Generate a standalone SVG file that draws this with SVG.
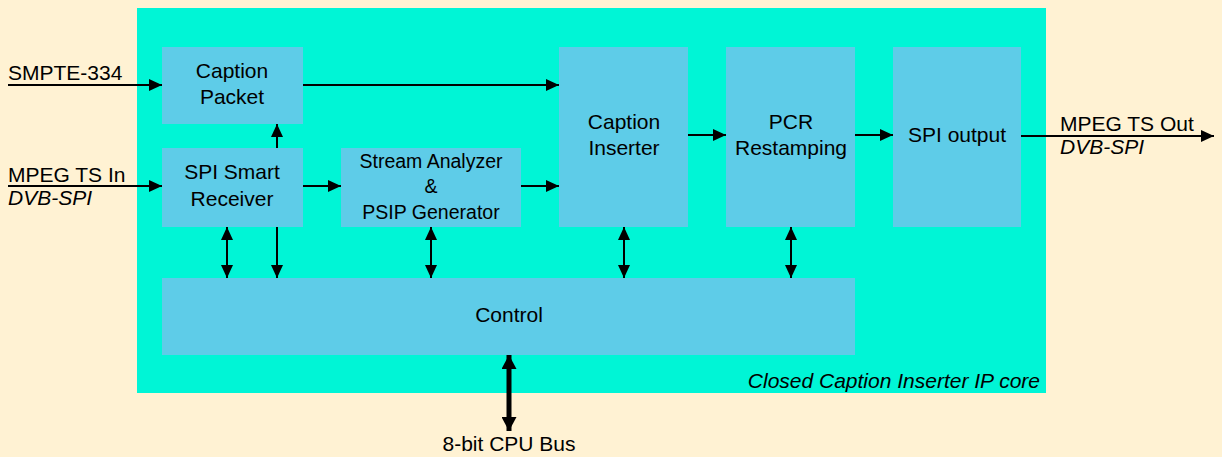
<svg xmlns="http://www.w3.org/2000/svg" width="1222" height="457" viewBox="0 0 1222 457">
<defs>
<marker id="ah" viewBox="0 0 13 12" refX="13" refY="6" markerWidth="13" markerHeight="12" markerUnits="userSpaceOnUse" orient="auto-start-reverse">
<path d="M0,0 L13,6 L0,12 Z" fill="#000"/>
</marker>
<marker id="ahb" viewBox="0 0 14 15" refX="14" refY="7.5" markerWidth="14" markerHeight="15" markerUnits="userSpaceOnUse" orient="auto-start-reverse">
<path d="M0,0 L14,7.5 L0,15 Z" fill="#000"/>
</marker>
</defs>
<style>
.box{fill:#5ECCE8;}
.t{font-family:"Liberation Sans",Arial,sans-serif;font-size:21px;fill:#000;text-anchor:middle;}
.s{font-size:19.5px;}
.l{font-family:"Liberation Sans",Arial,sans-serif;font-size:21px;fill:#000;}
.i{font-style:italic;}
.c{stroke:#000;stroke-width:2;fill:none;}
</style>
<rect x="0" y="0" width="1222" height="457" fill="#FFF2D3"/>
<rect id="core" x="137" y="8" width="909" height="385" fill="#00F5D6"/>
<text class="l i" x="1040" y="388" text-anchor="end">Closed Caption Inserter IP core</text>

<g id="caption-packet"><rect class="box" x="162" y="47" width="141" height="77"/><text class="t" x="232" y="78">Caption</text><text class="t" x="232" y="104">Packet</text></g>
<g id="spi-receiver"><rect class="box" x="162" y="148" width="141" height="79"/><text class="t" x="232" y="179">SPI Smart</text><text class="t" x="232" y="206">Receiver</text></g>
<g id="stream-analyzer"><rect class="box" x="341" y="148" width="180" height="79"/><text class="t s" x="431" y="168">Stream Analyzer</text><text class="t s" x="431" y="193">&amp;</text><text class="t s" x="431" y="219">PSIP Generator</text></g>
<g id="caption-inserter"><rect class="box" x="559" y="47" width="129" height="180"/><text class="t" x="624" y="129">Caption</text><text class="t" x="624" y="155">Inserter</text></g>
<g id="pcr"><rect class="box" x="726" y="47" width="129" height="180"/><text class="t" x="791" y="129">PCR</text><text class="t" x="791" y="155">Restamping</text></g>
<g id="spi-output"><rect class="box" x="893" y="47" width="128" height="180"/><text class="t" x="957" y="142">SPI output</text></g>
<g id="control"><rect class="box" x="162" y="278" width="693" height="77"/><text class="t" x="509" y="322">Control</text></g>

<g id="labels">
<text class="l" x="8" y="80">SMPTE-334</text>
<text class="l" x="8" y="182">MPEG TS In</text>
<text class="l i" x="8" y="205">DVB-SPI</text>
<text class="l" x="1060" y="131">MPEG TS Out</text>
<text class="l i" x="1060" y="154">DVB-SPI</text>
<text class="t" x="509" y="451">8-bit CPU Bus</text>
</g>

<g id="connectors">
<line class="c" x1="8" y1="85" x2="162" y2="85" marker-end="url(#ah)"/>
<line class="c" x1="8" y1="186" x2="162" y2="186" marker-end="url(#ah)"/>
<line class="c" x1="303" y1="85" x2="559" y2="85" marker-end="url(#ah)"/>
<line class="c" x1="303" y1="186" x2="341" y2="186" marker-end="url(#ah)"/>
<line class="c" x1="521" y1="186" x2="559" y2="186" marker-end="url(#ah)"/>
<line class="c" x1="277" y1="148" x2="277" y2="124" marker-end="url(#ah)"/>
<line class="c" x1="688" y1="135" x2="726" y2="135" marker-end="url(#ah)"/>
<line class="c" x1="855" y1="135" x2="893" y2="135" marker-end="url(#ah)"/>
<line class="c" x1="1021" y1="136" x2="1214" y2="136" marker-end="url(#ah)"/>
<line class="c" x1="227" y1="227" x2="227" y2="278" marker-start="url(#ah)" marker-end="url(#ah)"/>
<line class="c" x1="277" y1="227" x2="277" y2="278" marker-end="url(#ah)"/>
<line class="c" x1="431" y1="227" x2="431" y2="278" marker-start="url(#ah)" marker-end="url(#ah)"/>
<line class="c" x1="624" y1="227" x2="624" y2="278" marker-start="url(#ah)" marker-end="url(#ah)"/>
<line class="c" x1="791" y1="227" x2="791" y2="278" marker-start="url(#ah)" marker-end="url(#ah)"/>
<line x1="509" y1="355" x2="509" y2="431" stroke="#000" stroke-width="5" marker-start="url(#ahb)" marker-end="url(#ahb)"/>
</g>
</svg>
